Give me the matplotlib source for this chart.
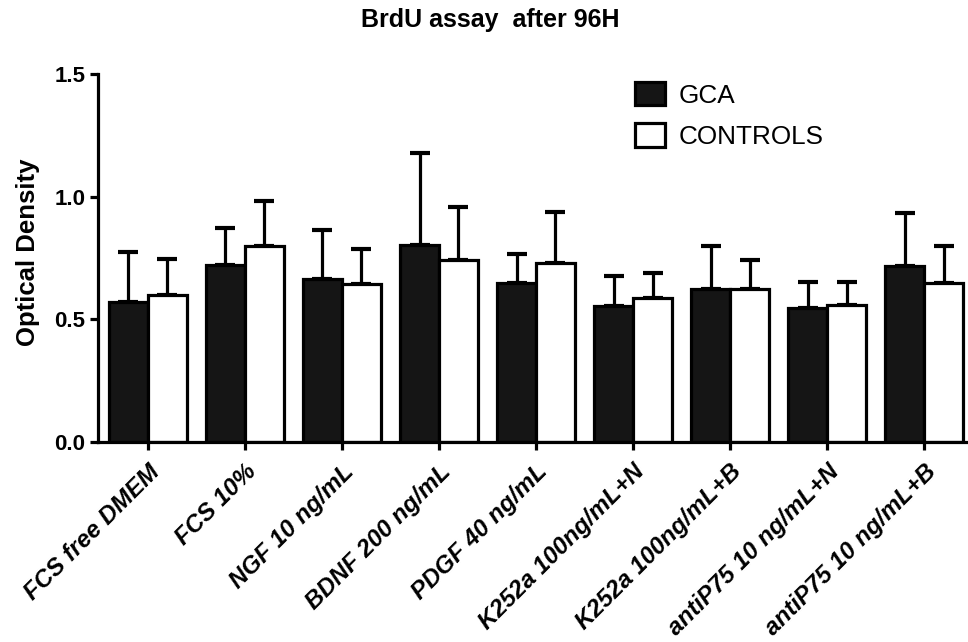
import matplotlib
matplotlib.use("Agg")
import matplotlib.pyplot as plt
import numpy as np

plt.rcParams['font.family'] = ['Liberation Sans', 'DejaVu Sans']

categories = ['FCS free DMEM', 'FCS 10%', 'NGF 10 ng/mL', 'BDNF 200 ng/mL',
              'PDGF 40 ng/mL', 'K252a 100ng/mL+N', 'K252a 100ng/mL+B',
              'antiP75 10 ng/mL+N', 'antiP75 10 ng/mL+B']
gca_mean = [0.571, 0.720, 0.666, 0.802, 0.648, 0.555, 0.623, 0.547, 0.718]
gca_err = [0.204, 0.152, 0.200, 0.377, 0.120, 0.122, 0.176, 0.105, 0.215]
ctrl_mean = [0.598, 0.798, 0.646, 0.741, 0.731, 0.585, 0.623, 0.560, 0.650]
ctrl_err = [0.150, 0.183, 0.140, 0.217, 0.205, 0.102, 0.120, 0.092, 0.149]

fig = plt.figure(figsize=(9.68, 6.42), dpi=100)
ax = fig.add_axes([0.101, 0.3115, 0.899, 0.5732])

x = np.arange(len(categories))
w = 0.4
lw = 2.3

ax.bar(x - w / 2, gca_mean, w, color='#151515', edgecolor='black',
       linewidth=lw, label='GCA', zorder=2)
ax.bar(x + w / 2, ctrl_mean, w, color='white', edgecolor='black',
       linewidth=lw, label='CONTROLS', zorder=2)

# upward-only error bars
zeros = np.zeros(len(categories))
ax.errorbar(x - w / 2, gca_mean, yerr=[zeros, gca_err], fmt='none',
            ecolor='black', elinewidth=lw, capsize=7.5, capthick=3, zorder=1)
ax.errorbar(x + w / 2, ctrl_mean, yerr=[zeros, ctrl_err], fmt='none',
            ecolor='black', elinewidth=lw, capsize=7.5, capthick=3, zorder=1)

ax.set_xlim(-0.515, 8.45)
ax.set_ylim(0, 1.5)
ax.set_yticks([0.0, 0.5, 1.0, 1.5])
ax.set_yticklabels(['0.0', '0.5', '1.0', '1.5'], fontsize=16, fontweight='bold')
ax.set_xticks(x)
ax.set_xticklabels(categories, rotation=45, ha='right', va='top',
                   rotation_mode='anchor', fontsize=17.5, fontweight='bold',
                   fontstyle='italic')
ax.tick_params(axis='both', width=lw, length=6, color='black')
ax.tick_params(axis='y', pad=3)
ax.tick_params(axis='x', pad=7)

for s in ['top', 'right']:
    ax.spines[s].set_visible(False)
for s in ['left', 'bottom']:
    ax.spines[s].set_linewidth(lw)

ax.set_ylabel('Optical Density', fontsize=18.5, fontweight='bold')
ax.yaxis.set_label_coords(-0.066, 0.515)
fig.text(490 / 968, 1 - 20 / 642, 'BrdU assay  after 96H', fontsize=18,
         fontweight='bold', ha='center', va='center')

ax.legend(loc='upper left', bbox_to_anchor=(0.617, 0.978), frameon=False,
          fontsize=18.8, handlelength=1.15, handleheight=1.0, handletextpad=0.55,
          labelspacing=0.6, borderpad=0, borderaxespad=0)

fig.savefig('out.png', dpi=100)
